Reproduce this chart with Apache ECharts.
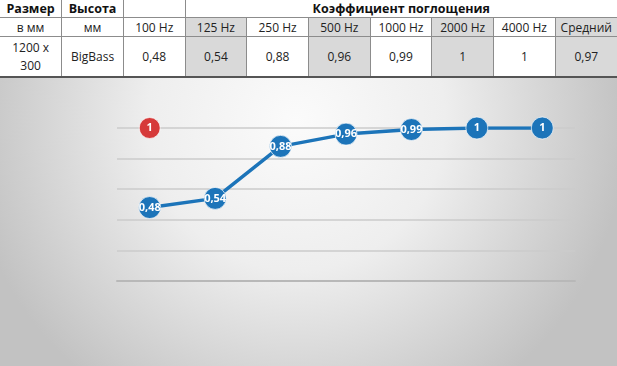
<!DOCTYPE html>
<html><head><meta charset="utf-8">
<script src="https://cdn.jsdelivr.net/npm/echarts@6/dist/echarts.min.js"></script>
<style>
html,body{margin:0;padding:0;width:617px;height:366px;overflow:hidden;background:#fff;}
#tbl{position:absolute;left:0;top:0;width:617px;border-collapse:collapse;table-layout:fixed;font-family:"Open Sans",sans-serif;font-size:12px;color:#222;}
#tbl td{border:1px solid #8c8c8c;text-align:center;padding:0;line-height:17px;white-space:nowrap;overflow:hidden;}
#tbl tr.r1 td{height:17px;font-weight:bold;font-size:12.5px;color:#111;border-top:none;}
#tbl tr.r2 td{height:18px;}
#tbl tr.r3 td{height:39px;line-height:18px;border-bottom:2px solid #555;}
#tbl td.g{background:#d9d9d9;}
#tbl td:first-child{border-left:none;}
#tbl td:last-child{border-right:none;}
#chart{position:absolute;left:0;top:78px;width:617px;height:288px;}
</style></head>
<body>
<table id="tbl"></table>
<div id="chart"></div>
<script>
var sizeLabel = ['Размер', 'в мм', '1200 x', '300'];
var heightLabel = ['Высота', 'мм', 'BigBass'];
var groupTitle = 'Коэффициент поглощения';
var categories = ['100 Hz', '125 Hz', '250 Hz', '500 Hz', '1000 Hz', '2000 Hz', '4000 Hz'];
var values = [0.48, 0.54, 0.88, 0.96, 0.99, 1, 1];
var averageLabel = 'Средний';
var averageValue = 0.97;
var markerSeries = [1];
var yTicks = [0, 0.2, 0.4, 0.6, 0.8, 1];

function fmt(v){ return String(v).replace('.', ','); }

// table
var tbl = document.getElementById('tbl');
var cols = '';
for (var i = 0; i < 10; i++) cols += '<col style="width:61.7px">';
var grayIdx = {1:true, 3:true, 5:true};
var r1 = '<tr class="r1"><td>' + sizeLabel[0] + '</td><td>' + heightLabel[0] + '</td><td></td><td colspan="8">' + groupTitle + '</td></tr>';
var r2 = '<tr class="r2"><td>' + sizeLabel[1] + '</td><td>' + heightLabel[1] + '</td>';
var r3 = '<tr class="r3"><td>' + sizeLabel[2] + '<br>' + sizeLabel[3] + '</td><td>' + heightLabel[2] + '</td>';
categories.forEach(function(c, i){
  var cls = grayIdx[i] ? ' class="g"' : '';
  r2 += '<td' + cls + '>' + c + '</td>';
  r3 += '<td' + cls + '>' + fmt(values[i]) + '</td>';
});
r2 += '<td class="g">' + averageLabel + '</td></tr>';
r3 += '<td class="g">' + fmt(averageValue) + '</td></tr>';
tbl.innerHTML = '<colgroup>' + cols + '</colgroup>' + r1 + r2 + r3;

var chart = echarts.init(document.getElementById('chart'));
chart.setOption({
  backgroundColor: {
    type: 'radial', x: 0.48, y: 0.15, r: 1.15,
    colorStops: [
      {offset: 0, color: '#fbfbfb'},
      {offset: 0.45, color: '#eeeeee'},
      {offset: 1, color: '#c2c2c2'}
    ]
  },
  animation: false,
  grid: {left: 117, right: 42, top: 50, bottom: 85},
  xAxis: {
    type: 'category', data: categories, boundaryGap: true,
    axisLine: {show: true, lineStyle: {color: '#b8b8b8', width: 2}},
    axisTick: {show: false}, axisLabel: {show: false}
  },
  yAxis: {
    type: 'value', min: yTicks[0], max: yTicks[yTicks.length - 1], interval: 0.2,
    axisLine: {show: false}, axisTick: {show: false}, axisLabel: {show: false},
    splitLine: {lineStyle: {color: '#cbcbcb', width: 1.5}}
  },
  series: [
    {
      type: 'line', data: values, symbol: 'circle', symbolSize: 22,
      lineStyle: {color: '#1c74b9', width: 3.5},
      itemStyle: {color: '#1c74b9', borderColor: 'rgba(255,255,255,0.7)', borderWidth: 1, opacity: 1},
      label: {show: true, position: 'inside', color: '#fff', fontWeight: 'bold', fontSize: 11,
        fontFamily: 'Open Sans, sans-serif', formatter: function(p){ return fmt(p.value); }},
      z: 3
    },
    {
      type: 'scatter', data: markerSeries, symbol: 'circle', symbolSize: 21,
      itemStyle: {color: '#d63a3a', borderColor: 'rgba(255,255,255,0.7)', borderWidth: 1, opacity: 1},
      label: {show: true, position: 'inside', color: '#fff', fontWeight: 'bold', fontSize: 11,
        fontFamily: 'Open Sans, sans-serif', formatter: function(p){ return fmt(p.value); }},
      z: 4
    }
  ]
});
</script>
</body></html>
